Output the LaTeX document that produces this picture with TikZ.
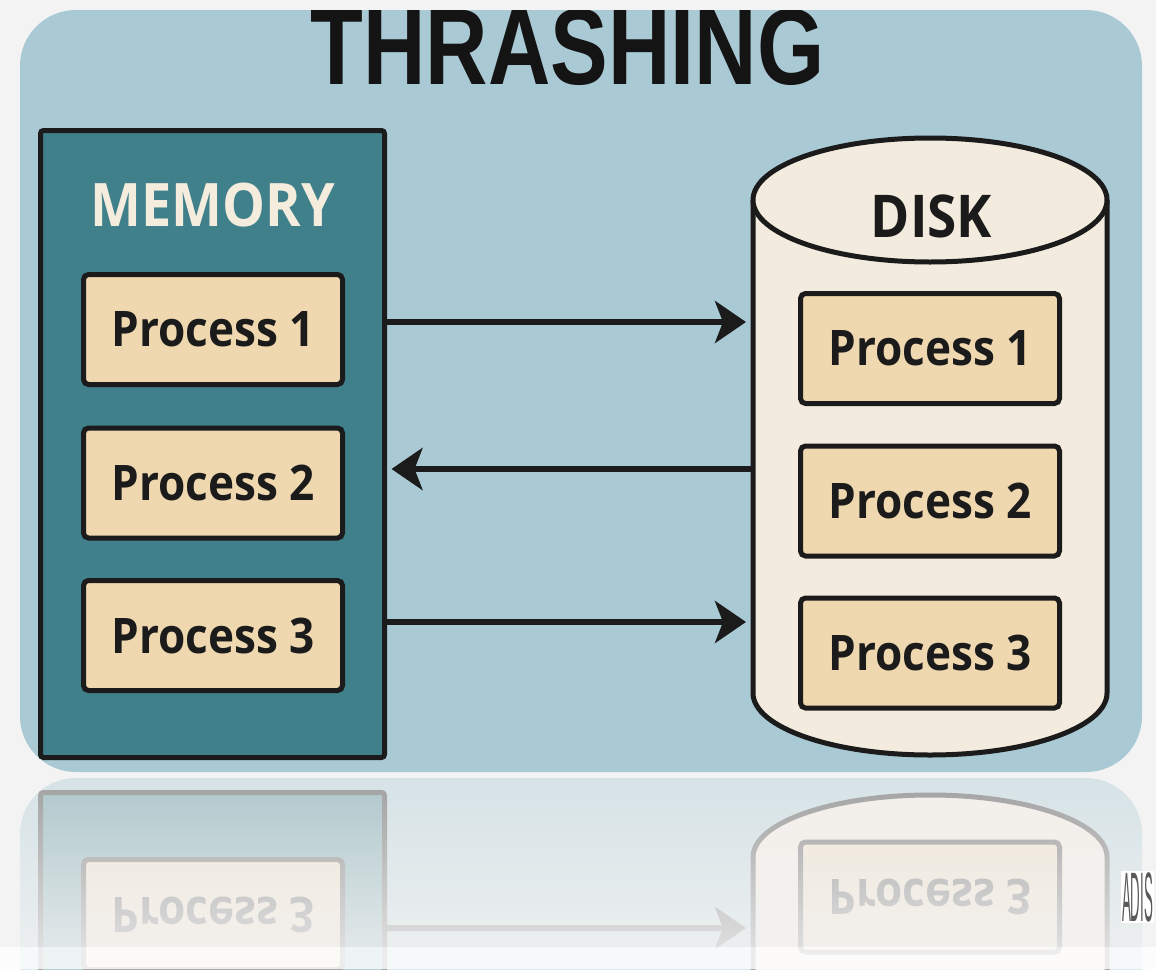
\documentclass[tikz,border=0pt]{standalone}
\usepackage{fontspec}
\usetikzlibrary{arrows.meta,fadings}

\newfontfamily\labelfont{Open Sans}[FakeStretch=0.9]
\newfontfamily\titlefont{Liberation Sans}[FakeStretch=0.8]
\newfontfamily\markfont{Liberation Sans}[FakeStretch=0.19]

\definecolor{pagegray}{HTML}{F3F3F3}
\definecolor{panelblue}{HTML}{A9C9D4}
\definecolor{memteal}{HTML}{3F808B}
\definecolor{inkdark}{HTML}{1B1B1B}
\definecolor{procfill}{HTML}{EFD8AF}
\definecolor{diskfill}{HTML}{F3EBDD}
\definecolor{memtext}{HTML}{F4ECDC}

% mirror image fades out towards the bottom
\tikzfading[name=fadedown, top color=transparent!100, bottom color=transparent!25]

% panel, memory, disk body and the lowest row (drawn again for the mirror)
\newcommand\lowerscene{%
  \fill[panelblue, rounded corners=56pt] (20,10) rectangle (1142,772);
  \node[membox] (memory) at (212.5,444) {};
  \node[procbox] (mp3) at (213,635.5) {Process 3};
  % disk cylinder
  \filldraw[diskline] (753,200) -- (753,693)
    arc[start angle=180, end angle=360, x radius=177pt, y radius=62pt] -- (1107,200);
  \filldraw[diskline] (930,200) ellipse[x radius=177pt, y radius=62pt];
  \coordinate (diskL) at (753,469);
  \node[procbox] (dp3) at (930,653) {Process 3};
  \draw[flow] (memory.east |- 0,622) -- (diskL |- 0,622);
}

\begin{document}
\begin{tikzpicture}[x=1pt,y=-1pt,
  every node/.style={inner sep=0pt,outer sep=0pt},
  membox/.style={draw=inkdark,line width=5pt,fill=memteal,rounded corners=3pt,
    minimum width=344pt,minimum height=627pt},
  procbox/.style={draw=inkdark,line width=5pt,fill=procfill,rounded corners=5pt,
    minimum width=259pt,minimum height=110pt,text=inkdark,
    font=\labelfont\bfseries\fontsize{49}{51}\selectfont},
  memlabel/.style={text=memtext,font=\labelfont\bfseries\fontsize{60}{62}\selectfont},
  disklabel/.style={text=inkdark,font=\labelfont\bfseries\fontsize{59}{61}\selectfont},
  diskline/.style={draw=inkdark,line width=5pt,fill=diskfill},
  flow/.style={draw=inkdark,line width=6pt,shorten >=7pt,
    -{Stealth[length=31pt,width=42pt,inset=8pt]}}]
  \useasboundingbox (0,0) rectangle (1156,969);
  \fill[pagegray] (0,0) rectangle (1156,969);

  \lowerscene
  \node[memlabel, anchor=base] (memtitle) at (213,226) {MEMORY};
  \node[procbox] (mp1) at (213,329.5) {Process 1};
  \node[procbox] (mp2) at (213,483) {Process 2};
  \node[disklabel, anchor=base] (disktitle) at (931.5,237) {DISK};
  \node[procbox] (dp1) at (930,348.5) {Process 1};
  \node[procbox] (dp2) at (930,501) {Process 2};
  % swapping out and in
  \draw[flow] (memory.east |- 0,322) -- (diskL |- 0,322);
  \draw[flow] (diskL) -- (memory.east |- diskL);

  \node[anchor=base,font=\titlefont\bfseries\fontsize{108}{110}\selectfont,text=black!92]
    (title) at (567.5,84) {THRASHING};
  \fill[pagegray] (0,0) rectangle (1156,10);

  % reflection under the panel
  \begin{scope}
    \clip (0,775) rectangle (1156,969);
    \begin{scope}[transparency group,opacity=.38,yshift=-1550pt,yscale=-1,transform shape]
      \lowerscene
    \end{scope}
    \fill[pagegray,path fading=fadedown] (0,775) rectangle (1156,947);
    \fill[white,opacity=.8] (0,947) rectangle (1156,969);
  \end{scope}

  \node[anchor=west,fill=white,inner sep=1pt,text=black!65,
    font=\markfont\fontsize{70}{70}\selectfont] (mark) at (1121,897) {ADIS};
\end{tikzpicture}
\end{document}
